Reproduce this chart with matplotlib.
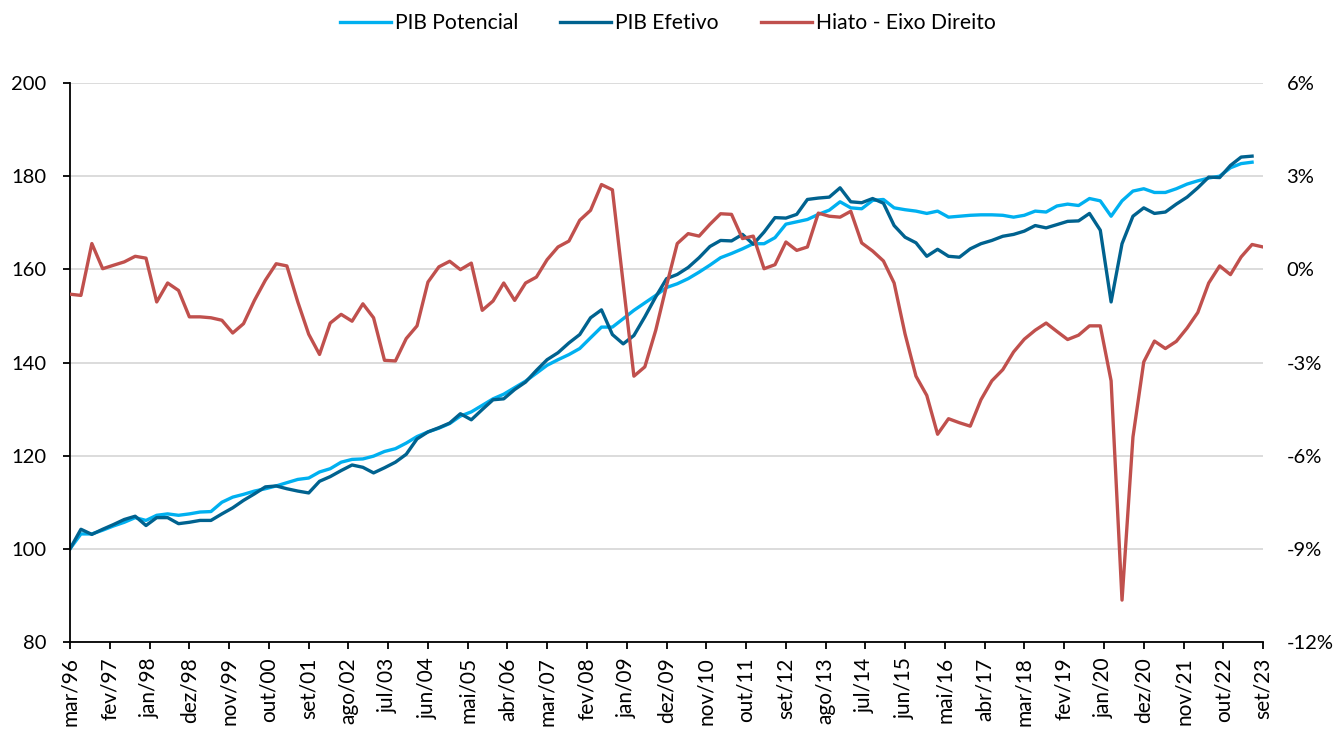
import pandas as pd
import matplotlib.pyplot as plt
from matplotlib.ticker import FuncFormatter, MultipleLocator

# quarterly series, first quarter = mar/96
pib_potencial = [
    100.0, 103.2, 103.2, 104.0, 104.9, 105.7, 106.7, 106.1, 107.2, 107.5,
    107.2, 107.5, 107.9, 108.0, 110.0, 111.1, 111.7, 112.4, 112.9, 113.5,
    114.2, 114.9, 115.2, 116.5, 117.2, 118.6, 119.2, 119.3, 119.9, 120.9,
    121.5, 122.7, 124.1, 125.1, 125.9, 126.9, 128.5, 129.4, 130.8, 132.2,
    133.2, 134.6, 136.0, 137.7, 139.4, 140.6, 141.7, 143.0, 145.3, 147.6,
    147.6, 149.4, 151.2, 152.8, 154.4, 156.1, 156.9, 158.0, 159.4, 160.9,
    162.5, 163.4, 164.4, 165.5, 165.5, 166.8, 169.7, 170.2, 170.7, 171.8,
    172.7, 174.5, 173.2, 173.0, 174.8, 175.0, 173.2, 172.8, 172.5, 172.0,
    172.5, 171.2, 171.4, 171.6, 171.7, 171.7, 171.6, 171.2, 171.6, 172.5,
    172.3, 173.6, 174.0, 173.7, 175.2, 174.7, 171.4, 174.7, 176.8, 177.3,
    176.5, 176.5, 177.3, 178.3, 179.0, 179.6, 180.0, 181.8, 182.7, 183.0,
]
pib_efetivo = [
    100.0, 104.2, 103.1, 104.2, 105.2, 106.3, 107.0, 105.0, 106.7, 106.7,
    105.4, 105.7, 106.1, 106.1, 107.5, 108.8, 110.4, 111.8, 113.3, 113.5,
    112.9, 112.4, 112.0, 114.5, 115.5, 116.8, 118.0, 117.5, 116.3, 117.4,
    118.6, 120.3, 123.6, 125.1, 126.0, 127.0, 129.0, 127.7, 129.9, 132.0,
    132.2, 134.2, 135.8, 138.3, 140.6, 142.1, 144.2, 146.0, 149.6, 151.3,
    146.0, 144.0, 145.8, 149.8, 154.1, 158.0, 158.9, 160.4, 162.5, 164.9,
    166.2, 166.1, 167.5, 165.4, 168.0, 171.1, 171.0, 171.8, 175.0, 175.3,
    175.5, 177.5, 174.5, 174.3, 175.2, 174.2, 169.4, 166.9, 165.7, 162.8,
    164.3, 162.8, 162.6, 164.4, 165.5, 166.2, 167.1, 167.5, 168.2, 169.4,
    168.9, 169.6, 170.3, 170.4, 172.0, 168.4, 153.0, 165.5, 171.4, 173.2,
    172.0, 172.3, 174.0, 175.5, 177.5, 179.8, 179.7, 182.3, 184.1, 184.3,
]
hiato = [
    -0.80, -0.84, 0.83, 0.02, 0.13, 0.24, 0.42, 0.36, -1.05, -0.44,
    -0.68, -1.53, -1.53, -1.56, -1.64, -2.05, -1.75, -1.00, -0.35, 0.18,
    0.11, -1.05, -2.09, -2.74, -1.73, -1.45, -1.67, -1.11, -1.56, -2.93,
    -2.95, -2.23, -1.82, -0.41, 0.08, 0.26, -0.01, 0.20, -1.32, -1.02,
    -0.44, -1.00, -0.44, -0.25, 0.31, 0.72, 0.91, 1.58, 1.90, 2.73,
    2.56, -0.46, -3.44, -3.14, -1.96, -0.52, 0.83, 1.15, 1.07, 1.45,
    1.79, 1.77, 0.99, 1.07, 0.02, 0.15, 0.88, 0.61, 0.72, 1.81,
    1.71, 1.68, 1.87, 0.85, 0.59, 0.27, -0.44, -2.08, -3.44, -4.06,
    -5.31, -4.81, -4.94, -5.05, -4.20, -3.59, -3.23, -2.66, -2.25, -1.96,
    -1.73, -2.00, -2.26, -2.12, -1.82, -1.82, -3.59, -10.65, -5.40, -2.98,
    -2.31, -2.55, -2.32, -1.89, -1.39, -0.44, 0.11, -0.17, 0.40, 0.80,
    0.72,
]
meses = ["jan", "fev", "mar", "abr", "mai", "jun",
         "jul", "ago", "set", "out", "nov", "dez"]

datas = pd.date_range("1996-03-01", periods=len(hiato), freq="3MS")
ticks = pd.date_range("1996-03-01", "2023-09-01", freq="11MS")
tick_labels = [f"{meses[d.month - 1]}/{d.strftime('%y')}" for d in ticks]

plt.rcParams["font.family"] = ["Lato", "DejaVu Sans"]
plt.rcParams["font.size"] = 14.5

fig = plt.figure(figsize=(13.36, 7.29), dpi=100)
ax = fig.add_axes([70 / 1336, 87 / 729, 1193 / 1336, 559 / 729])

l1, = ax.plot(datas[:len(pib_potencial)], pib_potencial, color="#00B0F0",
              lw=2.4, label="PIB Potencial")
l2, = ax.plot(datas[:len(pib_efetivo)], pib_efetivo, color="#00628F",
              lw=2.4, label="PIB Efetivo")

ax.set_ylim(80, 200)
ax.yaxis.set_major_locator(MultipleLocator(20))
ax.set_xlim(datas[0], ticks[-1])
ax.set_xticks(ticks)
ax.set_xticklabels(tick_labels, rotation=90, fontsize=15)
ax.yaxis.grid(True, color="#d9d9d9", lw=1.3)
ax.set_axisbelow(True)
for s in ["top", "right"]:
    ax.spines[s].set_visible(False)
ax.spines["left"].set_linewidth(1.3)
ax.spines["bottom"].set_linewidth(1.3)
ax.tick_params(axis="y", direction="out", length=5, width=1.3, pad=12)
ax.tick_params(axis="x", direction="out", length=5, width=1.3, pad=6)

ax2 = ax.twinx()
l3, = ax2.plot(datas, hiato, color="#C0504D", lw=2.4,
               label="Hiato - Eixo Direito")
ax2.set_ylim(-12, 6)
ax2.yaxis.set_major_locator(MultipleLocator(3))
ax2.yaxis.set_major_formatter(FuncFormatter(lambda v, p: f"{v:.0f}%"))
for s in ax2.spines.values():
    s.set_visible(False)
ax2.tick_params(axis="y", length=0, pad=17)

fig.legend(handles=[l1, l2, l3], loc="upper center",
           bbox_to_anchor=(0.5, 1.008), ncol=3, frameon=False, fontsize=15.2,
           handlelength=2.4, handletextpad=0.2, columnspacing=2.0)

fig.savefig("out.png", dpi=100)
plt.close(fig)
